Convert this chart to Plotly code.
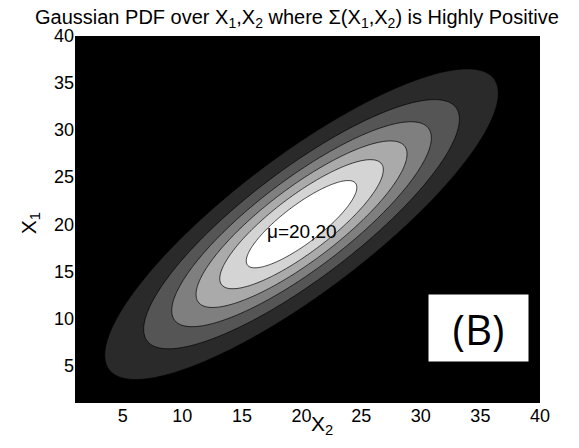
import numpy as np
import plotly.graph_objects as go

# ---- data ----
mu = [20.0, 20.0]                 # mean of (X2, X1)
sigma = [[70.0, 59.0], [59.0, 70.0]]  # covariance, highly positive
x2_vals = np.linspace(1, 40, 157)
x1_vals = np.linspace(1, 40, 157)
n_levels = 6
tick_vals = [5, 10, 15, 20, 25, 30, 35, 40]
tick_text = ["5", "10", "15", "20", "25", "30", "35", "40"]
mean_label = "\u03bc=20,20"
panel_label = "(B)"

# ---- compute pdf ----
S = np.array(sigma)
Sinv = np.linalg.inv(S)
X, Y = np.meshgrid(x2_vals, x1_vals)
dx = X - mu[0]
dy = Y - mu[1]
q = Sinv[0, 0] * dx * dx + 2 * Sinv[0, 1] * dx * dy + Sinv[1, 1] * dy * dy
Z = np.exp(-0.5 * q) / (2 * np.pi * np.sqrt(np.linalg.det(S)))
peak = Z.max()
step = peak / (n_levels + 1)

fig = go.Figure()
fig.add_trace(go.Contour(
    x=x2_vals, y=x1_vals, z=Z,
    autocontour=False,
    contours=dict(start=step, end=step * n_levels, size=step, coloring="fill"),
    colorscale=[[0, "black"], [1, "white"]],
    line=dict(color="black", width=0.7),
    showscale=False,
    hoverinfo="skip",
))

font = "Liberation Sans, Arial, Helvetica, sans-serif"
fig.update_layout(
    width=579, height=448,
    margin=dict(l=75, r=39, t=36, b=45),
    paper_bgcolor="white",
    plot_bgcolor="black",
    showlegend=False,
    font=dict(family=font, size=19, color="black"),
    xaxis=dict(range=[1, 40], tickvals=tick_vals, ticktext=tick_text,
               showgrid=False, zeroline=False, ticks="", showline=False,
               tickfont=dict(size=18)),
    yaxis=dict(range=[1, 40], tickvals=tick_vals, ticktext=tick_text,
               showgrid=False, zeroline=False, ticks="", showline=False,
               tickfont=dict(size=18)),
    annotations=[
        dict(text="Gaussian PDF over X<sub>1</sub>,X<sub>2</sub> where \u03a3(X<sub>1</sub>,X<sub>2</sub>) is Highly Positive",
             xref="paper", yref="paper", x=(297 - 75) / 465, y=1.0, yshift=18,
             xanchor="center", yanchor="middle", showarrow=False,
             font=dict(size=20)),
        dict(text="X<sub>2</sub>", xref="paper", yref="paper", x=(322 - 75) / 465, y=0, yshift=-7,
             xanchor="center", yanchor="top", showarrow=False, font=dict(size=21)),
        dict(text="X<sub>1</sub>", xref="paper", yref="paper", x=0, xshift=-45, y=0.49,
             xanchor="center", yanchor="middle", textangle=-90, showarrow=False,
             font=dict(size=21)),
        dict(text=mean_label, x=mu[0], y=mu[1] - 0.8, xref="x", yref="y",
             showarrow=False, font=dict(size=19, color="black")),
        dict(text=panel_label, xref="paper", yref="paper",
             x=(478.5 - 75) / 465, y=(403 - 327.5) / 367,
             xanchor="center", yanchor="middle", showarrow=False,
             width=97, height=64, bgcolor="white",
             font=dict(family="Open Sans, sans-serif", size=42, color="black")),
    ],
)

fig.write_html("out.html")
